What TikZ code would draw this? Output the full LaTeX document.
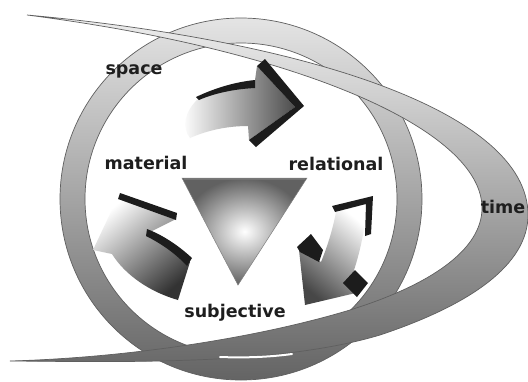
\documentclass[tikz,border=0pt]{standalone}
\usepackage{fontspec}
\setmainfont{DejaVu Sans}
\definecolor{edgec}{RGB}{95,95,95}
\definecolor{labelc}{RGB}{30,30,30}
\definecolor{ringtop}{RGB}{228,228,228}
\definecolor{ringbot}{RGB}{100,100,100}
\definecolor{timetop}{RGB}{238,238,238}
\definecolor{timemid}{RGB}{215,215,215}
\definecolor{timebot}{RGB}{105,105,105}
\definecolor{shadowc}{RGB}{28,28,28}
\begin{document}
\begin{tikzpicture}[x=1pt,y=-1pt,
  edge/.style={draw=edgec, line width=0.7pt},
  lbl/.style={font=\fontsize{17.5}{17.5}\selectfont\bfseries, text=labelc, inner sep=0pt},
  blackpart/.style={fill=shadowc},
]
\useasboundingbox (0,0) rectangle (528,381);
\fill[white] (0,0) rectangle (528,381);

% ring (space)
\shade[even odd rule, top color=ringtop, bottom color=ringbot]
  (241,199) circle (181) (241,199) circle (156);
\draw[edge] (241,199) circle (181);
\draw[edge] (241,199) circle (156);

% time band
\shade[top color=timetop, middle color=timemid, bottom color=timebot]
  (27,15) .. controls (300,40) and (528,110) .. (528,215)
  .. controls (528,265) and (470,305) .. (380,335)
  .. controls (280,365) and (130,362) .. (10,361)
  .. controls (120,358) and (250,340) .. (350,310)
  .. controls (430,285) and (482,250) .. (482,208)
  .. controls (482,130) and (300,50) .. (27,15) -- cycle;
\draw[edge]
  (27,15) .. controls (300,40) and (528,110) .. (528,215)
  .. controls (528,265) and (470,305) .. (380,335)
  .. controls (280,365) and (130,362) .. (10,361)
  .. controls (120,358) and (250,340) .. (350,310)
  .. controls (430,285) and (482,250) .. (482,208)
  .. controls (482,130) and (300,50) .. (27,15) -- cycle;
\draw[white, line width=2pt, line cap=round] (220,357) .. controls (245,358) and (270,357) .. (292,354);

% top arrow
\shade[left color=white, right color=black!70]
  (198,99) .. controls (215,92) and (235,88) .. (254,87) -- (257,66) -- (295,107) -- (249,140)
  -- (248,126) .. controls (228,126) and (208,130) .. (190,138)
  .. controls (182,128) and (184,112) .. (198,99) -- cycle;
\fill[blackpart] (196,97) .. controls (215,88) and (235,82) .. (255,80) -- (255,88)
  .. controls (235,89) and (215,93) .. (199,100) -- cycle;
\fill[blackpart] (257,66) -- (265,59) -- (304,106) -- (256,147) -- (249,140) -- (295,107) -- cycle;

% right arrow
\shade[top color=white, bottom color=black!72, shading angle=-40]
  (336,212) -- (366,204) .. controls (366,230) and (358,260) .. (350,282) -- (360,292)
  -- (305,305) -- (299,250) -- (321,262) .. controls (328,245) and (333,228) .. (336,212) -- cycle;
\fill[blackpart] (332,206) -- (373,196) -- (371,234) -- (365,236) -- (366,204) -- (335,212) -- cycle;
\fill[blackpart] (297,247) -- (311,234) -- (323,250) -- (319,262) -- (300,252) -- cycle;
\fill[blackpart] (343,283) -- (355,270) -- (368,283) -- (357,297) -- cycle;

% left arrow
\shade[top color=white, bottom color=black!80, shading angle=40]
  (118,197) -- (176,219) -- (150,232) .. controls (165,240) and (180,250) .. (190,262)
  -- (178,300) .. controls (150,292) and (125,275) .. (112,254) -- (93,250) -- cycle;
\fill[blackpart] (120,193) -- (177,213) -- (176,220) -- (118,199) -- cycle;
\fill[blackpart] (147,229) .. controls (165,236) and (180,247) .. (192,258) -- (187,266)
  .. controls (176,254) and (162,244) .. (146,236) -- cycle;

% triangle
\shade[inner color=white, outer color=black!62]
  (182,178) -- (307,178) -- (238,285) -- cycle;
\draw[black!55, line width=2pt] (184,179) -- (305,179);
\draw[black!50, line width=0.5pt] (182,178) -- (307,178) -- (238,285) -- cycle;

% labels
\node[lbl] (space) at (134,71) {space};
\node[lbl] (material) at (146,163) {material};
\node[lbl] (relational) at (336,164) {relational};
\node[lbl] (subjective) at (235,313) {subjective};
\node[lbl] (time) at (503,207) {time};
\end{tikzpicture}
\end{document}
